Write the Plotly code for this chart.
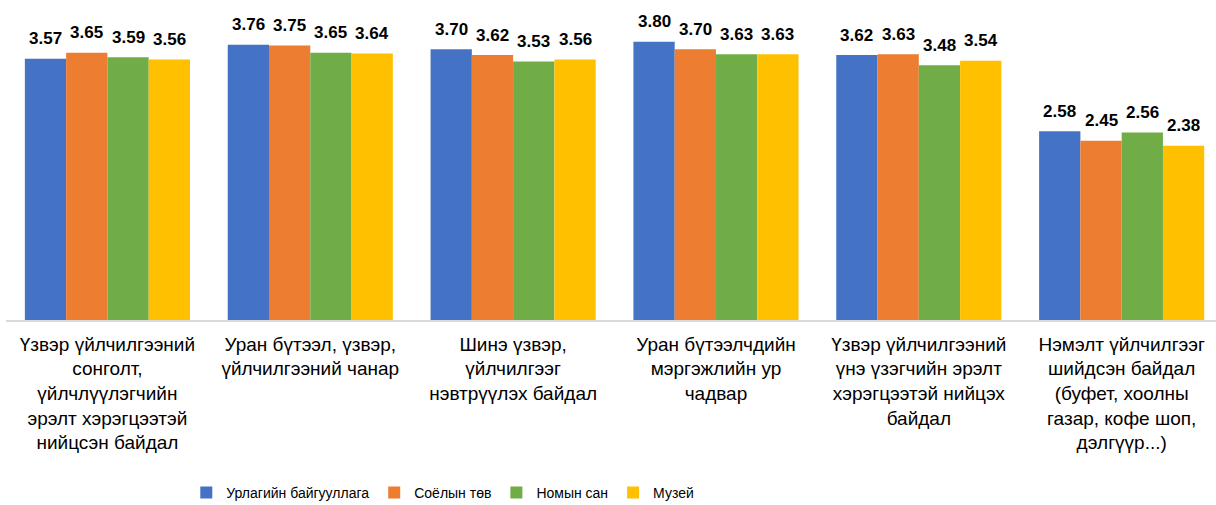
import plotly.graph_objects as go

categories = [
    "Үзвэр үйлчилгээний<br>сонголт,<br>үйлчлүүлэгчийн<br>эрэлт хэрэгцээтэй<br>нийцсэн байдал",
    "Уран бүтээл, үзвэр,<br>үйлчилгээний чанар",
    "Шинэ үзвэр,<br>үйлчилгээг<br>нэвтрүүлэх байдал",
    "Уран бүтээлчдийн<br>мэргэжлийн ур<br>чадвар",
    "Үзвэр үйлчилгээний<br>үнэ үзэгчийн эрэлт<br>хэрэгцээтэй нийцэх<br>байдал",
    "Нэмэлт үйлчилгээг<br>шийдсэн байдал<br>(буфет, хоолны<br>газар, кофе шоп,<br>дэлгүүр...)",
]

series_names = ["Урлагийн байгууллага", "Соёлын төв", "Номын сан", "Музей"]

arts_org = [3.57, 3.76, 3.70, 3.80, 3.62, 2.58]
culture_center = [3.65, 3.75, 3.62, 3.70, 3.63, 2.45]
library = [3.59, 3.65, 3.53, 3.63, 3.48, 2.56]
museum = [3.56, 3.64, 3.56, 3.63, 3.54, 2.38]

colors = ["#4472C4", "#ED7D31", "#70AD47", "#FFC000"]

BARGAP = 0.186
x_idx = list(range(len(categories)))
all_series = [arts_org, culture_center, library, museum]
n_series = len(all_series)
slot = (1 - BARGAP) / n_series  # width of one bar in category units

fig = go.Figure()
for name, vals, col in zip(series_names, all_series, colors):
    fig.add_trace(go.Bar(
        x=x_idx,
        y=vals,
        name=name,
        marker=dict(color=col, line=dict(width=0)),
        cliponaxis=False,
    ))

# value labels centred above each bar of the group
label_font = dict(family="Liberation Sans, Arial", size=17, color="#000000", weight="bold")
for j, vals in enumerate(all_series):
    offset = (j - (n_series - 1) / 2) * slot
    for i, v in zip(x_idx, vals):
        fig.add_annotation(
            x=i + offset, y=v, text=f"{v:.2f}",
            showarrow=False, xanchor="center", yanchor="middle",
            yshift=20, font=label_font,
        )

fig.update_layout(
    width=1216,
    height=505,
    margin=dict(l=6, r=0, t=10, b=185),
    paper_bgcolor="white",
    plot_bgcolor="white",
    barmode="group",
    bargap=BARGAP,
    bargroupgap=0,
    font=dict(family="Liberation Sans, Arial", color="#000000"),
    showlegend=True,
    legend=dict(
        orientation="h",
        x=0.149,
        xanchor="left",
        yref="container",
        y=0.024,
        yanchor="middle",
        font=dict(family="Liberation Sans, Arial", size=14, color="#000000"),
        itemwidth=30,
    ),
    xaxis=dict(
        tickmode="array",
        tickvals=x_idx,
        ticktext=categories,
        range=[-0.5, 5.465],
        showline=True,
        linecolor="#D9D9D9",
        linewidth=1.5,
        ticks="",
        ticklabelstandoff=6,
        showgrid=False,
        tickfont=dict(family="Liberation Sans, Arial", size=19, color="#000000"),
        fixedrange=True,
    ),
    yaxis=dict(
        range=[0, 4.235],
        visible=False,
        showgrid=False,
        zeroline=False,
        fixedrange=True,
    ),
)

fig.write_html("out.html")
